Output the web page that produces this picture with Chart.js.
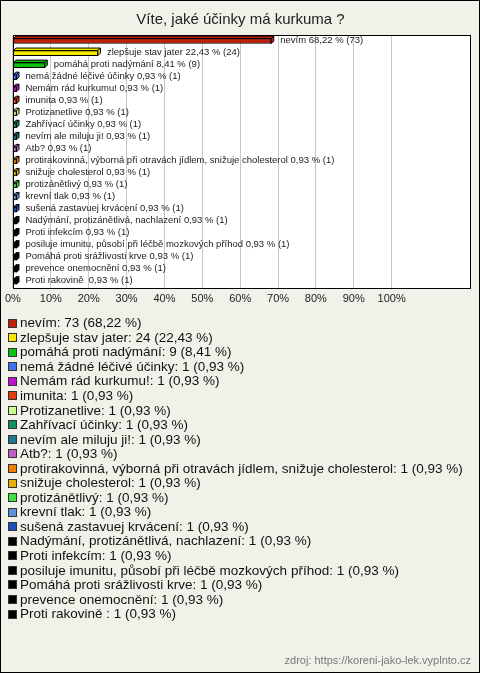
<!DOCTYPE html>
<html>
<head>
<meta charset="utf-8">
<script src="https://cdn.jsdelivr.net/npm/chart.js@4"></script>
<style>
  html, body { margin: 0; padding: 0; background: #f2f1e9; }
  #wrap { width: 480px; height: 673px; position: relative; }
</style>
</head>
<body>
<div id="wrap"><canvas id="kurkuma"></canvas></div>
<script>
// answers
const answers = [
  'nevím', 'zlepšuje stav jater', 'pomáhá proti nadýmání', 'nemá žádné léčivé účinky',
  'Nemám rád kurkumu!', 'imunita', 'Protizanetlive', 'Zahřívací účinky',
  'nevím ale miluju ji!', 'Atb?', 'protirakovinná, výborná při otravách jídlem, snižuje cholesterol',
  'snižuje cholesterol', 'protizánětlivý', 'krevní tlak', 'sušená zastavuej krvácení',
  'Nadýmání, protizánětlivá, nachlazení', 'Proti infekcím',
  'posiluje imunitu, působí při léčbě mozkových příhod', 'Pomáhá proti srážlivosti krve',
  'prevence onemocnění', 'Proti rakovině '
];
const counts = [73, 24, 9, 1, 1, 1, 1, 1, 1, 1, 1, 1, 1, 1, 1, 1, 1, 1, 1, 1, 1];
const percents = [68.22, 22.43, 8.41, 0.93, 0.93, 0.93, 0.93, 0.93, 0.93, 0.93, 0.93,
  0.93, 0.93, 0.93, 0.93, 0.93, 0.93, 0.93, 0.93, 0.93, 0.93];
const colors = [
  '#c0200a', '#f8e800', '#10c010', '#4070f0', '#c010d0', '#e04010', '#c8ff90',
  '#109060', '#207890', '#c060c0', '#f08000', '#e8b000', '#40e040', '#6090e0',
  '#2050c0', '#000000', '#000000', '#000000', '#000000', '#000000', '#000000'
];
const xTicks = [0, 10, 20, 30, 40, 50, 60, 70, 80, 90, 100];
const source = 'zdroj: https://koreni-jako-lek.vyplnto.cz';

const fmt = v => v.toFixed(2).replace('.', ',');

// page background, white plot, frames
const framePlugin = {
  id: 'frame',
  beforeDraw(chart) {
    const { ctx, chartArea: a } = chart;
    ctx.save();
    ctx.fillStyle = '#f2f1e9';
    ctx.fillRect(0, 0, chart.width, chart.height);
    ctx.fillStyle = '#ffffff';
    ctx.fillRect(a.left, a.top, a.right - a.left, a.bottom - a.top);
    ctx.restore();
  },
  afterDraw(chart) {
    const { ctx, chartArea: a } = chart;
    ctx.save();
    ctx.strokeStyle = '#000';
    ctx.lineWidth = 1;
    ctx.strokeRect(Math.round(a.left) + 0.5, Math.round(a.top) + 0.5,
      Math.round(a.right - a.left), Math.round(a.bottom - a.top));
    ctx.strokeRect(0.5, 0.5, chart.width - 1, chart.height - 1);
    ctx.restore();
  }
};

// fake 3D depth on bars + text next to every bar
const barLabels = {
  id: 'barLabels',
  afterDatasetsDraw(chart) {
    const { ctx } = chart;
    const meta = chart.getDatasetMeta(0);
    const d = 2.5;
    ctx.save();
    meta.data.forEach((bar, i) => {
      const x0 = bar.base, x1 = bar.x, y0 = bar.y - bar.height / 2, y1 = bar.y + bar.height / 2;
      ctx.fillStyle = colors[i];
      ctx.strokeStyle = '#000';
      ctx.lineWidth = 1;
      ctx.beginPath();
      ctx.moveTo(x0, y0); ctx.lineTo(x0 + d, y0 - d); ctx.lineTo(x1 + d, y0 - d); ctx.lineTo(x1, y0);
      ctx.closePath(); ctx.fill(); ctx.stroke();
      ctx.beginPath();
      ctx.moveTo(x1, y0); ctx.lineTo(x1 + d, y0 - d); ctx.lineTo(x1 + d, y1 - d); ctx.lineTo(x1, y1);
      ctx.closePath(); ctx.fill(); ctx.stroke();
    });
    ctx.font = '9.5px "Liberation Sans", Arial, sans-serif';
    ctx.fillStyle = '#222';
    ctx.textBaseline = 'middle';
    meta.data.forEach((bar, i) => {
      ctx.fillText(answers[i] + ' ' + fmt(percents[i]) + ' % (' + counts[i] + ')', bar.x + 9, bar.y - 1);
    });
    ctx.restore();
  }
};

// legend list below the axis + source line
const listLegend = {
  id: 'listLegend',
  afterDraw(chart) {
    const { ctx } = chart;
    ctx.save();
    ctx.font = '13.5px "Liberation Sans", Arial, sans-serif';
    ctx.textBaseline = 'middle';
    answers.forEach((name, i) => {
      const y = 322.5 + i * 14.55;
      ctx.fillStyle = colors[i];
      ctx.fillRect(8, Math.round(y) - 4, 9, 9);
      ctx.strokeStyle = '#333';
      ctx.strokeRect(8.5, Math.round(y) - 3.5, 8, 8);
      ctx.fillStyle = '#111';
      ctx.fillText(name + ': ' + counts[i] + ' (' + fmt(percents[i]) + ' %)', 20, y + 1);
    });
    ctx.font = '11px "Liberation Sans", Arial, sans-serif';
    ctx.fillStyle = '#777';
    ctx.textAlign = 'right';
    ctx.fillText(source, 471, 661);
    ctx.restore();
  }
};

new Chart(document.getElementById('kurkuma'), {
  type: 'bar',
  data: {
    labels: answers,
    datasets: [{
      data: percents,
      backgroundColor: colors,
      borderColor: '#000',
      borderWidth: 1,
      borderSkipped: false,
      barThickness: 5
    }]
  },
  options: {
    indexAxis: 'y',
    responsive: true,
    maintainAspectRatio: false,
    animation: false,
    layout: { padding: { left: 11, right: 10, top: 0, bottom: 362 } },
    plugins: {
      legend: { display: false },
      tooltip: { enabled: false },
      title: {
        display: true,
        text: 'Víte, jaké účinky má kurkuma ?',
        color: '#222',
        font: { family: '"Liberation Sans", Arial, sans-serif', size: 15, weight: 'normal' },
        padding: { top: 11, bottom: 6 }
      }
    },
    scales: {
      x: {
        min: 0,
        max: 120.7,
        afterBuildTicks(scale) {
          scale.ticks = xTicks.map(v => ({ value: v }));
        },
        ticks: {
          callback: v => v + '%',
          color: '#222',
          padding: 5,
          maxRotation: 0,
          autoSkip: false,
          font: { family: '"Liberation Sans", Arial, sans-serif', size: 11 }
        },
        grid: { color: '#c8c8c8', drawTicks: false },
        border: { display: false }
      },
      y: {
        display: false,
        grid: { display: false }
      }
    }
  },
  plugins: [framePlugin, barLabels, listLegend]
});
</script>
</body>
</html>
